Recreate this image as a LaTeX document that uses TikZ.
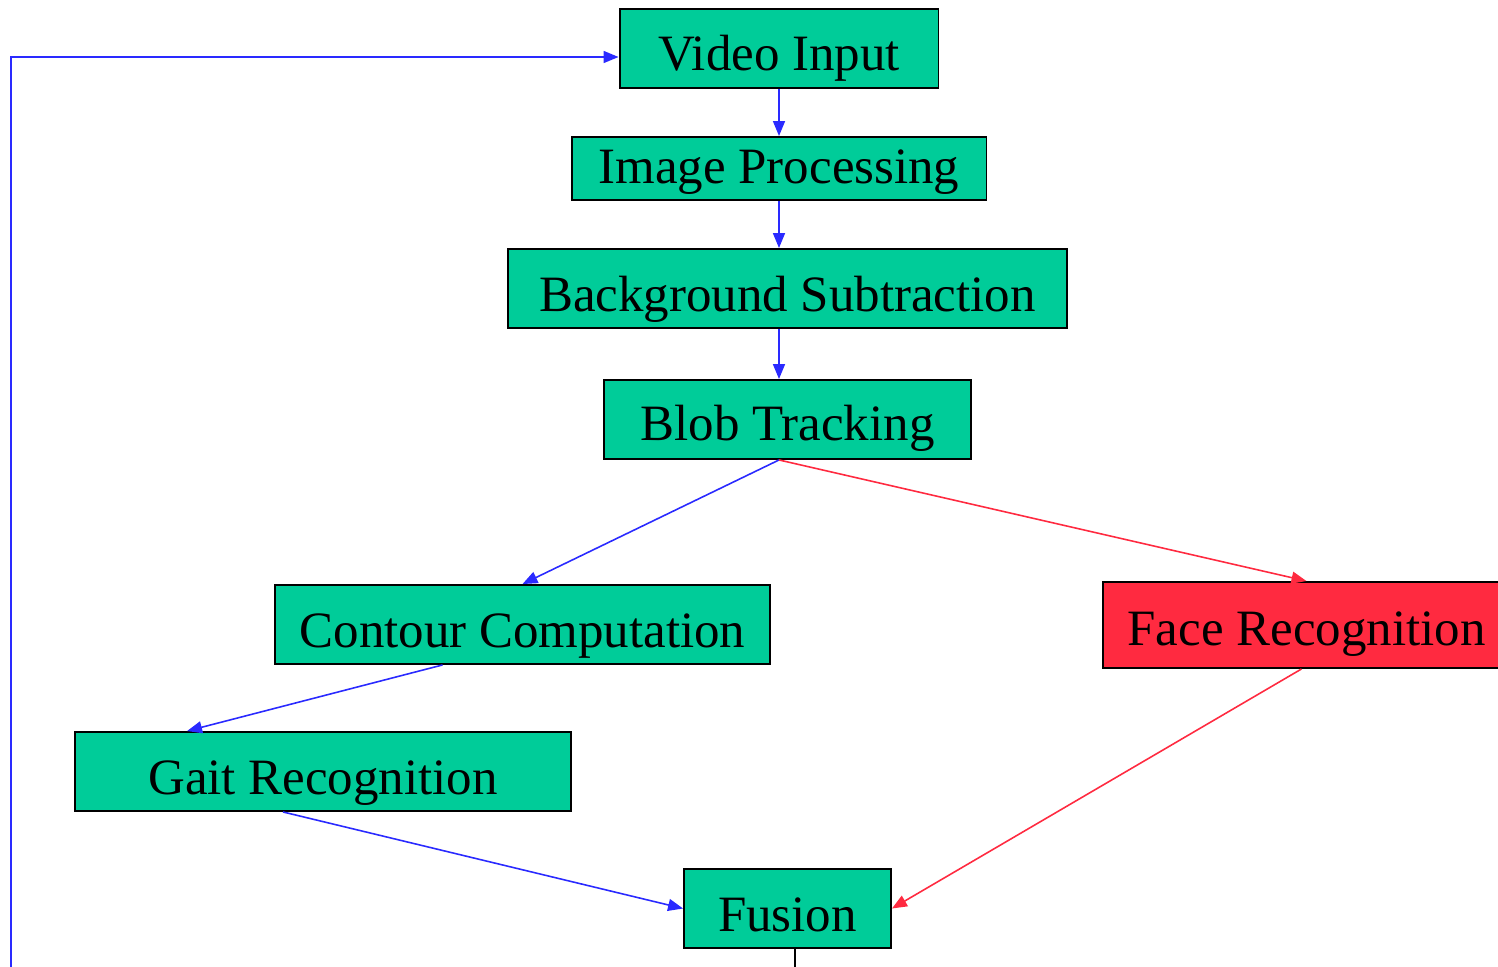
\documentclass[tikz,border=0pt]{standalone}
\usepackage{fontspec}
\setmainfont{Liberation Serif}
\usetikzlibrary{arrows.meta}

\definecolor{boxgreen}{RGB}{0,204,153}
\definecolor{boxred}{RGB}{255,42,64}
\definecolor{flowblue}{RGB}{42,42,255}

\begin{document}
\begin{tikzpicture}[x=0.02cm,y=-0.02cm,>={Triangle[length=0.3cm,width=0.24cm]},
  stage/.style={draw=black,line width=1.1pt,fill=boxgreen,inner sep=0pt,font=\fontsize{29}{32}\selectfont,text height=1.24cm,text depth=0.34cm},
  flow/.style={->,draw=flowblue,line width=0.9pt},
  redflow/.style={->,draw=boxred,line width=0.9pt}]
\useasboundingbox (0,0) rectangle (1498,967);
\begin{scope}
\clip (0,0) rectangle (1498,967);
\node[stage,minimum width=6.38cm] (vid) at (779,48.5) {Video Input};
\node[stage,minimum width=8.3cm,text height=0.92cm] (img) at (779,168.5) {Image Processing};
\node[stage,minimum width=11.18cm] (bg) at (787.5,288.5) {Background Subtraction};
\node[stage,minimum width=7.34cm,text height=1.2cm,text depth=0.38cm] (blob) at (787.5,419.5) {Blob Tracking};
\node[stage,minimum width=9.9cm] (contour) at (522.5,624.5) {Contour Computation};
\node[stage,fill=boxred,minimum width=8.14cm,text height=1.26cm,text depth=0.46cm] (face) at (1306.5,625) {Face Recognition};
\node[stage,minimum width=9.92cm] (gait) at (323,771.5) {Gait Recognition};
\node[stage,minimum width=4.14cm] (fusion) at (787.5,908.5) {Fusion};
\coordinate (out) at (795,975);
\coordinate (back) at (11,975);
% main chain
\draw[flow] (vid.south) -- (img.north);
\draw[flow] (img.south) -- (img.south |- bg.north);
\draw[flow] (img.south |- bg.south) -- (img.south |- blob.north);
% split
\draw[flow] (blob.south -| vid.south) -- (contour.north);
\draw[redflow] (blob.south -| vid.south) -- (face.north);
\draw[flow] ([xshift=-1.6cm]contour.south) -- ([xshift=2.26cm]gait.north west);
\draw[flow] ([xshift=-0.8cm]gait.south) -- (fusion.west);
\draw[redflow] ([xshift=-0.1cm]face.south) -- (fusion.east);
% output and feedback
\draw[line width=0.9pt] ([xshift=0.15cm]fusion.south) -- (out);
\draw[flow] (back) |- ([yshift=-0.17cm]vid.west);
\end{scope}
\end{tikzpicture}
\end{document}
